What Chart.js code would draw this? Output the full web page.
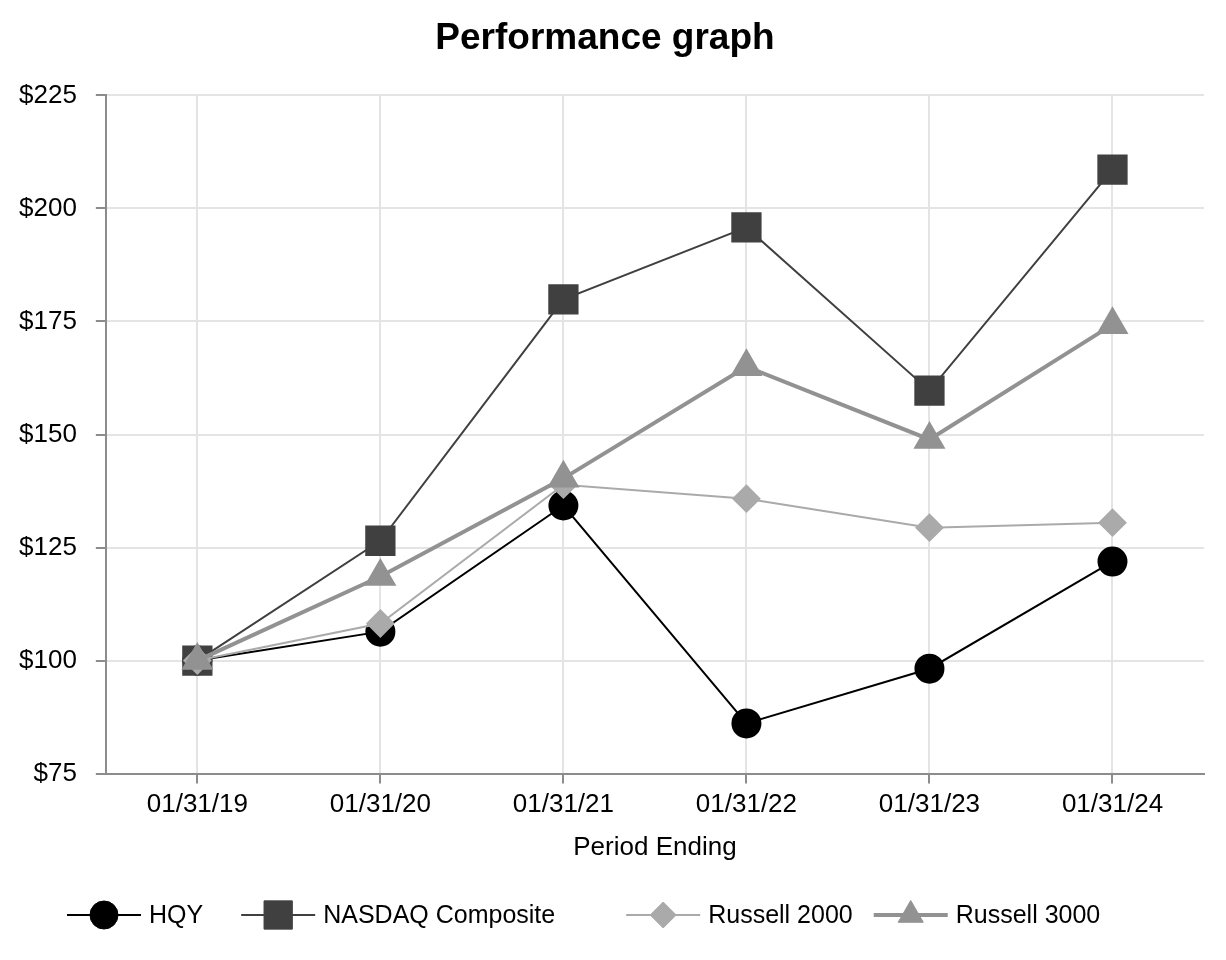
<!DOCTYPE html>
<html>
<head>
<meta charset="utf-8">
<script src="https://cdn.jsdelivr.net/npm/chart.js@4/dist/chart.umd.min.js"></script>
<style>
  html, body { margin: 0; padding: 0; background: #fff; }
  #wrap { width: 1226px; height: 960px; }
</style>
</head>
<body>
<div id="wrap"><canvas id="perf" width="1226" height="960"></canvas></div>
<script>
const categories = ['01/31/19', '01/31/20', '01/31/21', '01/31/22', '01/31/23', '01/31/24'];
const hqy = [100, 106.4, 134.3, 86.1, 98.2, 121.9];
const nasdaq = [100, 126.5, 179.9, 195.8, 159.7, 208.6];
const russell2000 = [100, 108.2, 138.9, 135.8, 129.4, 130.5];
const russell3000 = [100, 118.6, 140.3, 165.0, 148.9, 174.3];
const yTicks = [75, 100, 125, 150, 175, 200, 225];

const fontFamily = '"Liberation Sans", Arial, Helvetica, sans-serif';
const axisGray = '#8c8c8c';
const gridGray = '#e4e4e4';

// legend drawn by hand: line + marker + label, like the original
const legendGaps = [38, 71, 21];
const legendPlugin = {
  id: 'lineLegend',
  afterDraw(chart) {
    const ctx = chart.ctx;
    const y = 915;
    let x = 67;
    ctx.save();
    ctx.font = '25px ' + fontFamily;
    ctx.textBaseline = 'middle';
    ctx.textAlign = 'left';
    chart.data.datasets.forEach((ds, i) => {
      const lineW = 74;
      ctx.strokeStyle = ds.borderColor;
      ctx.lineWidth = ds.borderWidth;
      ctx.beginPath();
      ctx.moveTo(x, y);
      ctx.lineTo(x + lineW, y);
      ctx.stroke();
      ctx.fillStyle = ds.pointBackgroundColor;
      ctx.strokeStyle = ds.pointBackgroundColor;
      ctx.lineWidth = 1;
      Chart.helpers.drawPoint(ctx, {
        pointStyle: ds.pointStyle,
        radius: ds.pointRadius,
        borderWidth: 1,
        rotation: 0
      }, x + lineW / 2, y);
      ctx.fillStyle = '#000';
      ctx.fillText(ds.label, x + lineW + 8, y + 1);
      x += lineW + 8 + ctx.measureText(ds.label).width + (legendGaps[i] || 0);
    });
    ctx.restore();
  }
};

const config = {
  type: 'line',
  data: {
    labels: categories,
    datasets: [
      {
        label: 'HQY',
        data: hqy,
        borderColor: '#000000',
        borderWidth: 2,
        pointStyle: 'circle',
        pointRadius: 14,
        pointBackgroundColor: '#000000',
        pointBorderColor: '#000000',
        order: 4
      },
      {
        label: 'NASDAQ Composite',
        data: nasdaq,
        borderColor: '#404040',
        borderWidth: 2,
        pointStyle: 'rect',
        pointRadius: 20,
        pointBackgroundColor: '#404040',
        pointBorderColor: '#404040',
        order: 3
      },
      {
        label: 'Russell 2000',
        data: russell2000,
        borderColor: '#aaaaaa',
        borderWidth: 2,
        pointStyle: 'rectRot',
        pointRadius: 13,
        pointBackgroundColor: '#aaaaaa',
        pointBorderColor: '#aaaaaa',
        order: 2
      },
      {
        label: 'Russell 3000',
        data: russell3000,
        borderColor: '#929292',
        borderWidth: 4,
        pointStyle: 'triangle',
        pointRadius: 14.5,
        pointBackgroundColor: '#929292',
        pointBorderColor: '#929292',
        order: 1
      }
    ]
  },
  options: {
    responsive: false,
    animation: false,
    devicePixelRatio: 1,
    layout: { padding: { left: 0, right: 16, top: 0, bottom: 97 } },
    elements: {
      line: { tension: 0 },
      point: { borderWidth: 1, hoverRadius: 14 }
    },
    plugins: {
      legend: { display: false },
      tooltip: { enabled: false },
      title: {
        display: true,
        text: 'Performance graph',
        color: '#000',
        font: { family: fontFamily, size: 37, weight: 'bold' },
        padding: { top: 17, bottom: 34 }
      }
    },
    scales: {
      x: {
        offset: true,
        grid: { color: gridGray, tickColor: axisGray, tickLength: 10, lineWidth: 2 },
        border: { color: axisGray, width: 2 },
        ticks: { color: '#000', font: { family: fontFamily, size: 26 }, padding: 6, maxRotation: 0 },
        title: {
          display: true,
          text: 'Period Ending',
          color: '#000',
          font: { family: fontFamily, size: 26 },
          padding: { top: 5, bottom: 0 }
        }
      },
      y: {
        min: yTicks[0],
        max: yTicks[yTicks.length - 1],
        afterBuildTicks(scale) {
          scale.ticks = yTicks.map(v => ({ value: v }));
        },
        grid: { color: gridGray, tickColor: axisGray, tickLength: 10, lineWidth: 2 },
        border: { color: axisGray, width: 2 },
        ticks: {
          color: '#000',
          font: { family: fontFamily, size: 26 },
          padding: 19,
          callback: v => '$' + v
        }
      }
    }
  },
  plugins: [legendPlugin]
};

const perfChart = new Chart(document.getElementById('perf'), config);
</script>
</body>
</html>
